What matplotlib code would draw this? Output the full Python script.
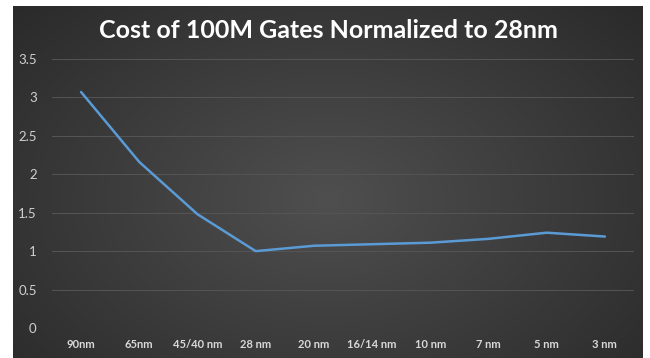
import numpy as np
import matplotlib.pyplot as plt

# node labels and relative cost per 100M gates (28nm = 1)
nodes = ["90nm", "65nm", "45/40 nm", "28 nm", "20 nm", "16/14 nm",
         "10 nm", "7 nm", "5 nm", "3 nm"]
cost = [3.07, 2.16, 1.48, 1.0, 1.07, 1.09, 1.11, 1.16, 1.24, 1.19]
yticks = [0, 0.5, 1, 1.5, 2, 2.5, 3, 3.5]
ytick_labels = ["0", "0.5", "1", "1.5", "2", "2.5", "3", "3.5"]

W, H = 650, 358
fig = plt.figure(figsize=(W / 100, H / 100), dpi=100)
fig.patch.set_facecolor("white")

# dark panel with a soft radial highlight
bg = fig.add_axes([13 / W, 0, (643 - 13) / W, 1 - 6 / H])
bg.set_axis_off()
yy, xx = np.mgrid[0:1:300j, 0:1:600j]
r = np.sqrt(((xx - 0.5) / 0.75) ** 2 + ((yy - 0.55) / 0.9) ** 2)
shade = np.clip(0.31 - 0.16 * r, 0.15, 0.31)
bg.imshow(np.dstack([shade, shade, shade]), aspect="auto",
          extent=[0, 1, 0, 1], interpolation="bilinear")

ax = fig.add_axes([52 / W, 1 - 328 / H, (634 - 52) / W, (328 - 59) / H])
ax.patch.set_alpha(0)

x = np.arange(len(nodes))
ax.plot(x, cost, color="#5b9bd5", lw=1.8, solid_capstyle="round", zorder=3)

ax.set_xlim(-0.5, len(nodes) - 0.5)
ax.set_ylim(0, 3.5)
ax.set_yticks(yticks)
ax.set_yticklabels(ytick_labels, fontsize=9.5, color="#d0d0d0", family="Lato")
ax.set_xticks(x)
ax.set_xticklabels(nodes, fontsize=8, color="#d9d9d9", family="Lato",
                   fontweight="bold")
ax.tick_params(length=0, axis="y", pad=11)
ax.tick_params(length=0, axis="x", pad=8)
ax.grid(axis="y", color="#555555", lw=0.7)
for s in ax.spines.values():
    s.set_visible(False)

fig.text(0.505, 1 - 31 / H, "Cost of 100M Gates Normalized to 28nm",
         ha="center", va="center", color="white", fontsize=18,
         family="Lato", fontweight="bold")

fig.savefig("out.png", dpi=100)
